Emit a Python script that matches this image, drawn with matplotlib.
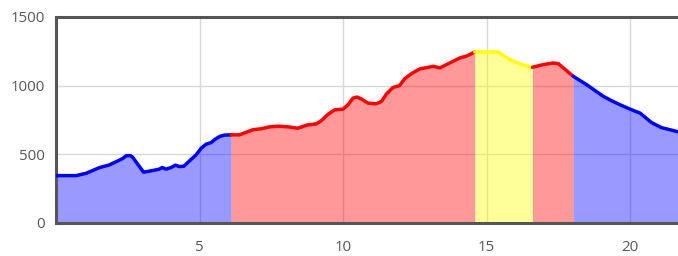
import matplotlib.pyplot as plt

# elevation profile (km, m)
dist = [0.0, 0.70, 1.05, 1.51, 1.86, 2.32, 2.44, 2.59, 2.67, 3.05, 3.37, 3.60, 3.70,
        3.84, 4.01, 4.16, 4.30, 4.45, 4.65, 4.88, 5.06, 5.23, 5.41, 5.52, 5.70, 5.87,
        6.10, 6.39, 6.63, 6.86, 7.15, 7.44, 7.73, 8.08, 8.43, 8.72, 9.07, 9.25, 9.48,
        9.71, 10.0, 10.17, 10.35, 10.49, 10.64, 10.87, 11.16, 11.34, 11.51, 11.74,
        11.97, 12.15, 12.38, 12.67, 12.91, 13.14, 13.37, 13.60, 13.83, 14.07, 14.30,
        14.59, 15.0, 15.40, 15.81, 16.22, 16.60, 16.97, 17.32, 17.50, 17.79, 18.02,
        18.49, 19.07, 19.36, 19.65, 20.0, 20.35, 20.75, 21.10, 21.51, 21.70]
elev = [345, 345, 362, 403, 423, 469, 489, 491, 479, 370, 382, 392, 404,
        392, 404, 421, 411, 413, 452, 496, 545, 574, 586, 606, 630, 640,
        642, 642, 661, 679, 686, 700, 705, 700, 690, 712, 722, 746, 792,
        824, 829, 860, 910, 917, 903, 873, 868, 885, 939, 987,
        1000, 1051, 1087, 1122, 1131, 1141, 1129, 1153, 1177, 1202, 1215,
        1245, 1245, 1245, 1190, 1153, 1134, 1153, 1165, 1160, 1109, 1068,
        1007, 922, 890, 861, 829, 800, 731, 694, 673, 662]

# coloured sections: (start km, end km, colour)
seg_start = [0.0, 6.10, 14.59, 16.60, 18.02]
seg_end = [6.10, 14.59, 16.60, 18.02, 21.70]
seg_color = ["#0000ff", "#ff0000", "#ffff00", "#ff0000", "#0000ff"]

fig = plt.figure(figsize=(6.78, 2.56), dpi=100)
ax = fig.add_axes([56 / 678, 1 - 223 / 256, 1 - 56 / 678, 206 / 256])

for a, b, c in zip(seg_start, seg_end, seg_color):
    xs = [x for x in dist if a <= x <= b]
    ys = [y for x, y in zip(dist, elev) if a <= x <= b]
    ax.fill_between(xs, ys, 0, color=c, alpha=0.4, lw=0, zorder=1)
    ax.plot(xs, ys, color=c, lw=2.5, solid_capstyle="round",
            solid_joinstyle="round", zorder=3)

ax.set_xlim(0, 21.67)
ax.set_ylim(0, 1500)
ax.set_xticks([5, 10, 15, 20])
ax.set_yticks([0, 500, 1000, 1500])
ax.grid(True, color="#d8d8d8", lw=1)
ax.set_axisbelow(True)

for s in ["left", "bottom", "top"]:
    ax.spines[s].set_color("#555555")
    ax.spines[s].set_linewidth(2.2)
ax.spines["right"].set_visible(False)

ax.tick_params(length=0, labelsize=10.8, labelcolor="#555555")
ax.tick_params(axis="y", pad=8)
ax.tick_params(axis="x", pad=12)
for lab in ax.get_xticklabels() + ax.get_yticklabels():
    lab.set_family("Open Sans")

fig.savefig("out.png", dpi=100)
